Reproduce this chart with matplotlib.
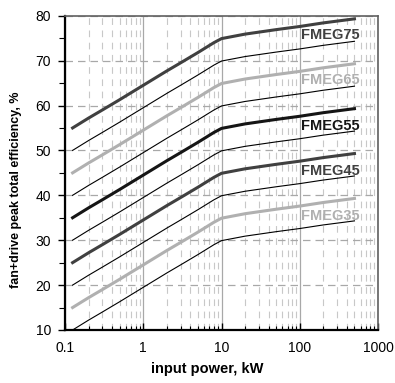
import matplotlib
matplotlib.use("Agg")
import matplotlib.pyplot as plt
from matplotlib.ticker import LogLocator, NullFormatter, FixedLocator

plt.rcParams['font.family'] = ['Liberation Sans', 'DejaVu Sans']

# input power, kW
power = [0.125, 0.2, 0.3, 0.5, 1, 2, 3, 5, 8, 10, 20, 50, 100, 200, 500]

# fan+drive peak total efficiency, %
fmeg75 = [55.0, 57.2, 59.0, 61.3, 64.5, 67.7, 69.5, 71.8, 74.0, 74.9, 75.9, 76.9, 77.6, 78.4, 79.3]
fmeg70 = [50.0, 52.2, 54.0, 56.3, 59.5, 62.7, 64.5, 66.8, 69.0, 69.9, 70.9, 71.9, 72.6, 73.4, 74.3]
fmeg65 = [45.0, 47.2, 49.0, 51.3, 54.5, 57.7, 59.5, 61.8, 64.0, 64.9, 65.9, 66.9, 67.6, 68.4, 69.3]
fmeg60 = [40.0, 42.2, 44.0, 46.3, 49.5, 52.7, 54.5, 56.8, 59.0, 59.9, 60.9, 61.9, 62.6, 63.4, 64.3]
fmeg55 = [35.0, 37.2, 39.0, 41.3, 44.5, 47.7, 49.5, 51.8, 54.0, 54.9, 55.9, 56.9, 57.6, 58.4, 59.3]
fmeg50 = [30.0, 32.2, 34.0, 36.3, 39.5, 42.7, 44.5, 46.8, 49.0, 49.9, 50.9, 51.9, 52.6, 53.4, 54.3]
fmeg45 = [25.0, 27.2, 29.0, 31.3, 34.5, 37.7, 39.5, 41.8, 44.0, 44.9, 45.9, 46.9, 47.6, 48.4, 49.3]
fmeg40 = [20.0, 22.2, 24.0, 26.3, 29.5, 32.7, 34.5, 36.8, 39.0, 39.9, 40.9, 41.9, 42.6, 43.4, 44.3]
fmeg35 = [15.0, 17.2, 19.0, 21.3, 24.5, 27.7, 29.5, 31.8, 34.0, 34.9, 35.9, 36.9, 37.6, 38.4, 39.3]
fmeg30 = [10.0, 12.2, 14.0, 16.3, 19.5, 22.7, 24.5, 26.8, 29.0, 29.9, 30.9, 31.9, 32.6, 33.4, 34.3]

labels = ['FMEG75', 'FMEG65', 'FMEG55', 'FMEG45', 'FMEG35']
label_y = [75.7, 65.7, 55.5, 45.5, 35.4]

dark = '#404040'
light = '#b0b0b0'
black = '#151515'

fig = plt.figure(figsize=(3.95, 3.83), dpi=100)
ax = fig.add_axes([0.1646, 0.1384, 0.7924, 0.8206])

# thin lines between the named grades
for vals in [fmeg70, fmeg60, fmeg50, fmeg40, fmeg30]:
    ax.plot(power, vals, color='black', lw=0.8, zorder=3)

thick = [(fmeg75, dark), (fmeg65, light), (fmeg55, black), (fmeg45, dark), (fmeg35, light)]
for (vals, col), lab, ly in zip(thick, labels, label_y):
    ax.plot(power, vals, color=col, lw=2.2, zorder=4)
    ax.text(590, ly, lab, color=col, fontsize=10.5, fontweight='bold',
            ha='right', va='center', zorder=5)

ax.set_xscale('log')
ax.set_xlim(0.1, 1000)
ax.set_ylim(10, 80)

ax.xaxis.set_minor_locator(LogLocator(base=10, subs=range(2, 10), numticks=20))
ax.xaxis.set_minor_formatter(NullFormatter())
ax.set_xticks([0.1, 1, 10, 100, 1000])
ax.set_xticklabels(['0.1', '1', '10', '100', '1000'])
ax.yaxis.set_major_locator(FixedLocator(range(10, 81, 10)))
ax.yaxis.set_minor_locator(FixedLocator(range(15, 80, 10)))

ax.grid(True, which='major', axis='x', color='#a8a8a8', lw=0.9, ls='-', zorder=1)
ax.grid(True, which='minor', axis='x', color='#c8c8c8', lw=0.8, ls=(0, (6, 5)), zorder=1)
ax.grid(True, which='major', axis='y', color='#a8a8a8', lw=0.9, ls=(0, (6, 4)), zorder=1)

ax.tick_params(axis='x', which='major', direction='in', length=5, width=1, labelsize=10, pad=8)
ax.tick_params(axis='x', which='minor', direction='in', length=3, width=0.8)
ax.tick_params(axis='y', which='major', direction='out', length=5, width=1, labelsize=10, pad=5)
ax.tick_params(axis='y', which='minor', direction='out', length=4, width=0.8)

for side in ['left', 'bottom']:
    ax.spines[side].set_linewidth(1.6)
    ax.spines[side].set_color('black')
for side in ['top', 'right']:
    ax.spines[side].set_linewidth(1.2)
    ax.spines[side].set_color('#606060')

ax.set_xlabel('input power, kW', fontsize=10.5, fontweight='bold')
ax.xaxis.set_label_coords(0.454, -0.102)
ax.set_ylabel('fan+drive peak total efficiency, %', fontsize=9, fontweight='bold')
ax.yaxis.set_label_coords(-0.137, 0.445)

fig.savefig('out.png', dpi=100)
